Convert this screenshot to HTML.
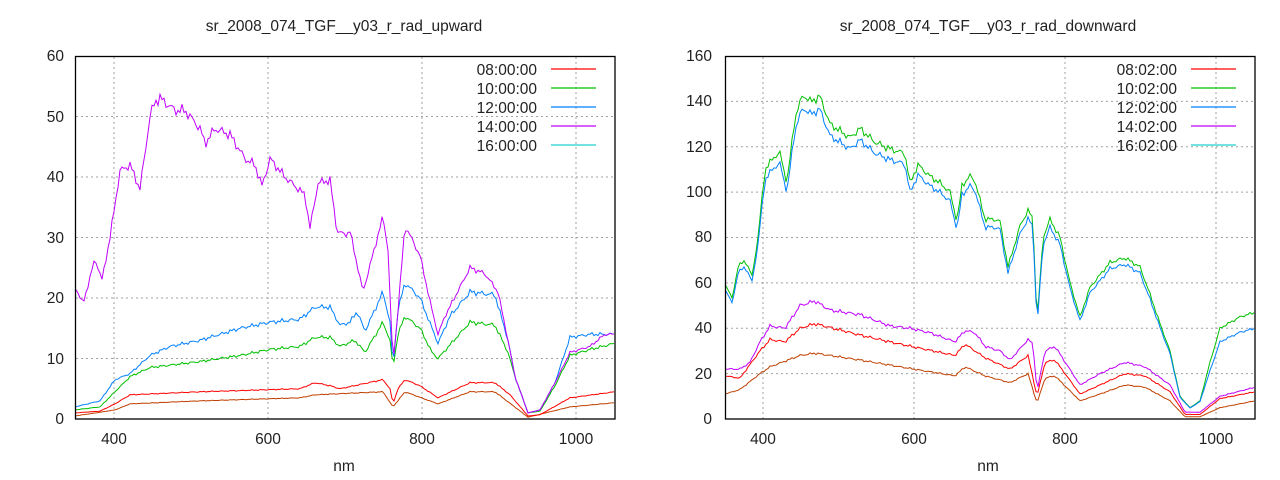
<!DOCTYPE html>
<html><head><meta charset="utf-8"><style>
html,body{margin:0;padding:0;background:#fff;}
svg{display:block;font-family:"Liberation Sans",sans-serif;font-size:15.5px;fill:#222;}
</style></head><body>
<svg id="s" width="1280" height="480" xmlns="http://www.w3.org/2000/svg">
<g id="grid" stroke="#a0a0a0" stroke-dasharray="2,3" stroke-width="1"></g>
<g id="lines" fill="none" stroke-width="1"></g>
<rect x="75.5" y="56.5" width="539.5" height="362.5" fill="none" stroke="#000" stroke-width="1.3"/>
<rect x="725.5" y="56.5" width="529.5" height="362.5" fill="none" stroke="#000" stroke-width="1.3"/>
<text x="344" y="31" text-anchor="middle">sr_2008_074_TGF__y03_r_rad_upward</text>
<text x="988" y="31" text-anchor="middle">sr_2008_074_TGF__y03_r_rad_downward</text>
<text x="344" y="471" text-anchor="middle">nm</text>
<text x="988" y="471" text-anchor="middle">nm</text>
<g text-anchor="end">
<text x="64" y="424">0</text><text x="64" y="364">10</text><text x="64" y="303">20</text><text x="64" y="243">30</text><text x="64" y="182">40</text><text x="64" y="122">50</text><text x="64" y="61">60</text>
<text x="712" y="424">0</text><text x="712" y="379">20</text><text x="712" y="333">40</text><text x="712" y="288">60</text><text x="712" y="242">80</text><text x="712" y="197">100</text><text x="712" y="152">120</text><text x="712" y="106">140</text><text x="712" y="61">160</text>
<text x="537" y="75">08:00:00</text><text x="537" y="94">10:00:00</text><text x="537" y="113">12:00:00</text><text x="537" y="132">14:00:00</text><text x="537" y="151">16:00:00</text>
<text x="1177" y="75">08:02:00</text><text x="1177" y="94">10:02:00</text><text x="1177" y="113">12:02:00</text><text x="1177" y="132">14:02:00</text><text x="1177" y="151">16:02:00</text>
</g>
<g text-anchor="middle">
<text x="114" y="444">400</text><text x="268" y="444">600</text><text x="422" y="444">800</text><text x="576" y="444">1000</text>
<text x="763" y="444">400</text><text x="914" y="444">600</text><text x="1065" y="444">800</text><text x="1216" y="444">1000</text>
</g>
<g stroke-width="1.3">
<line x1="551" y1="69" x2="596" y2="69" stroke="#ff0000"/><line x1="551" y1="88" x2="596" y2="88" stroke="#00c000"/><line x1="551" y1="107" x2="596" y2="107" stroke="#0080ff"/><line x1="551" y1="126" x2="596" y2="126" stroke="#c000ff"/><line x1="551" y1="145" x2="596" y2="145" stroke="#20d0d0"/>
<line x1="1191" y1="69" x2="1236" y2="69" stroke="#ff0000"/><line x1="1191" y1="88" x2="1236" y2="88" stroke="#00c000"/><line x1="1191" y1="107" x2="1236" y2="107" stroke="#0080ff"/><line x1="1191" y1="126" x2="1236" y2="126" stroke="#c000ff"/><line x1="1191" y1="145" x2="1236" y2="145" stroke="#20d0d0"/>
</g>
</svg>
<script>
var NS="http://www.w3.org/2000/svg";
function el(g,t,a){var e=document.createElementNS(NS,t);for(var k in a)e.setAttribute(k,a[k]);document.getElementById(g).appendChild(e);}
[114,268,422,576].forEach(function(x){el("grid","line",{x1:x,y1:57,x2:x,y2:419});});
[10,20,30,40,50].forEach(function(v){var y=419-v*6.05;el("grid","line",{x1:76,y1:y,x2:615,y2:y});});
[763,914,1065,1216].forEach(function(x){el("grid","line",{x1:x,y1:57,x2:x,y2:419});});
for(var v=20;v<160;v+=20){var y=419-v*2.269;el("grid","line",{x1:726,y1:y,x2:1255,y2:y});}
function interp(p,x){for(var i=0;i<p.length-1;i++){if(x<=p[i+1][0]){var a=p[i],b=p[i+1];return a[1]+(b[1]-a[1])*(x-a[0])/(b[0]-a[0]);}}return p[p.length-1][1];}
function draw(p,x0,x1,sc,col,amp){var pts=[];for(var x=x0;x<=x1;x+=2){var v=interp(p,x);v+=amp*v*(Math.sin(x*1.7)*0.5+Math.sin(x*0.63)*0.5);if(v<0)v=0;pts.push(x+","+(419-v*sc).toFixed(1));}el("lines","polyline",{points:pts.join(" "),stroke:col});}
var L=6.05,R=2.269;
var Lp=[[75,22],[83,19],[95,26.5],[102,23],[110,30],[120,41],[130,42],[140,38],[150,50],[155,52.5],[160,53],[175,51],[185,51],[200,48],[205,45.5],[215,48],[230,47],[245,43],[255,42],[262,38.5],[270,43],[285,40],[305,37],[310,31.5],[318,39],[330,39.5],[337,31],[345,30.5],[350,31],[363,21],[383,33.5],[388,28],[393,9],[398,18],[405,32],[420,27],[432,18],[438,14],[445,17],[470,25],[485,24],[498,21],[508,13],[515,7],[528,1],[540,1.5],[555,6],[570,11],[590,12],[605,14],[615,14]];
var Lb=[[75,2],[100,3],[115,6.5],[130,7.5],[140,9],[150,10.5],[170,12],[200,13],[240,15],[270,16],[300,16.5],[315,18.5],[330,18.5],[340,15.5],[350,16],[357,17.8],[365,14.5],[383,21],[390,16],[393,8.5],[398,18],[405,22.5],[420,20],[432,15],[438,12.5],[450,17],[470,21],[495,20.5],[508,13],[515,7],[528,1],[540,1.5],[555,6],[570,13.5],[590,14],[615,14]];
var Lg=[[75,1.5],[100,2],[115,4.5],[130,7],[150,8.5],[200,9.5],[240,10.5],[270,11.5],[300,12],[315,13.5],[330,13.5],[340,12],[355,13],[365,11],[383,16],[390,13],[393,8.5],[398,14],[405,17],[420,15],[432,11],[438,10],[470,16],[495,15.5],[508,11],[515,7],[528,1],[540,1.3],[555,5.5],[570,10.5],[590,11.5],[615,12.5]];
var Lr=[[75,1],[100,1.3],[115,2.5],[130,4],[200,4.5],[300,5],[315,6],[330,5.5],[340,5],[383,6.5],[390,5],[393,2.5],[398,5],[405,6.5],[420,5.5],[438,3.5],[470,6],[495,6],[510,4],[528,0.5],[540,0.7],[570,3.5],[615,4.5]];
var Lo=[[75,0.5],[115,1.5],[130,2.5],[200,3],[300,3.5],[315,4],[383,4.5],[393,2],[405,4.5],[438,2.5],[470,4.5],[495,4.5],[528,0.3],[570,2],[615,2.7]];
draw(Lo,76,615,L,"#c04000",0.02);draw(Lr,76,615,L,"#ff0000",0.02);draw(Lg,76,615,L,"#00c000",0.025);draw(Lb,76,615,L,"#0080ff",0.025);draw(Lp,76,615,L,"#c000ff",0.02);
var Rg=[[725,60],[732,53],[738,67],[745,70],[752,63],[758,80],[765,110],[775,116],[780,117],[787,104],[795,133],[803,143],[810,140],[820,142],[830,130],[840,127],[850,124],[860,128],[875,122],[890,119],[905,117],[910,104],[918,112],[930,107],[940,104],[950,100],[957,87],[962,103],[970,107],[975,105],[985,88],[995,88],[1000,87],[1008,67],[1020,85],[1028,92],[1033,88],[1037,42],[1043,80],[1050,88],[1060,80],[1070,60],[1080,45],[1090,58],[1110,69],[1125,71],[1140,67],[1150,55],[1160,42],[1170,30],[1180,10],[1190,5],[1200,8],[1210,25],[1220,40],[1240,45],[1255,47]];
var Rb=Rg.map(function(p){var f=p[0]>1200?0.85:0.96;return [p[0],p[1]*f];});
var Rp=[[725,22],[740,22],[750,25],[760,34],[770,41],[785,40],[800,50],[815,52],[830,48],[860,46],[890,41],[910,40],[930,38],[955,34],[965,39],[975,38],[985,32],[1000,30],[1010,26],[1028,35],[1033,33],[1037,12],[1045,30],[1055,32],[1080,15],[1100,20],[1125,25],[1145,23],[1170,15],[1185,3],[1200,3],[1220,10],[1255,14]];
var Rr=[[725,19],[740,18],[760,30],[770,35],[785,34],[800,40],[815,42],[860,37],[900,33],[955,28],[965,33],[985,27],[1010,22],[1028,28],[1037,10],[1045,25],[1055,26],[1080,11],[1100,15],[1125,20],[1145,19],[1170,12],[1185,2],[1200,2],[1220,9],[1255,12]];
var Ro=[[725,11],[740,13],[760,20],[770,23],[800,28],[815,29],[860,26],[900,23],[955,19],[965,23],[985,19],[1010,16],[1028,20],[1037,7],[1045,18],[1055,19],[1080,8],[1100,11],[1125,15],[1145,14],[1170,8],[1185,1],[1200,1],[1220,5],[1255,8]];
draw(Ro,726,1255,R,"#c04000",0.02);draw(Rr,726,1255,R,"#ff0000",0.02);draw(Rp,726,1255,R,"#c000ff",0.02);draw(Rg,726,1255,R,"#00c000",0.015);draw(Rb,726,1255,R,"#0080ff",0.015);
</script>
</body></html>
